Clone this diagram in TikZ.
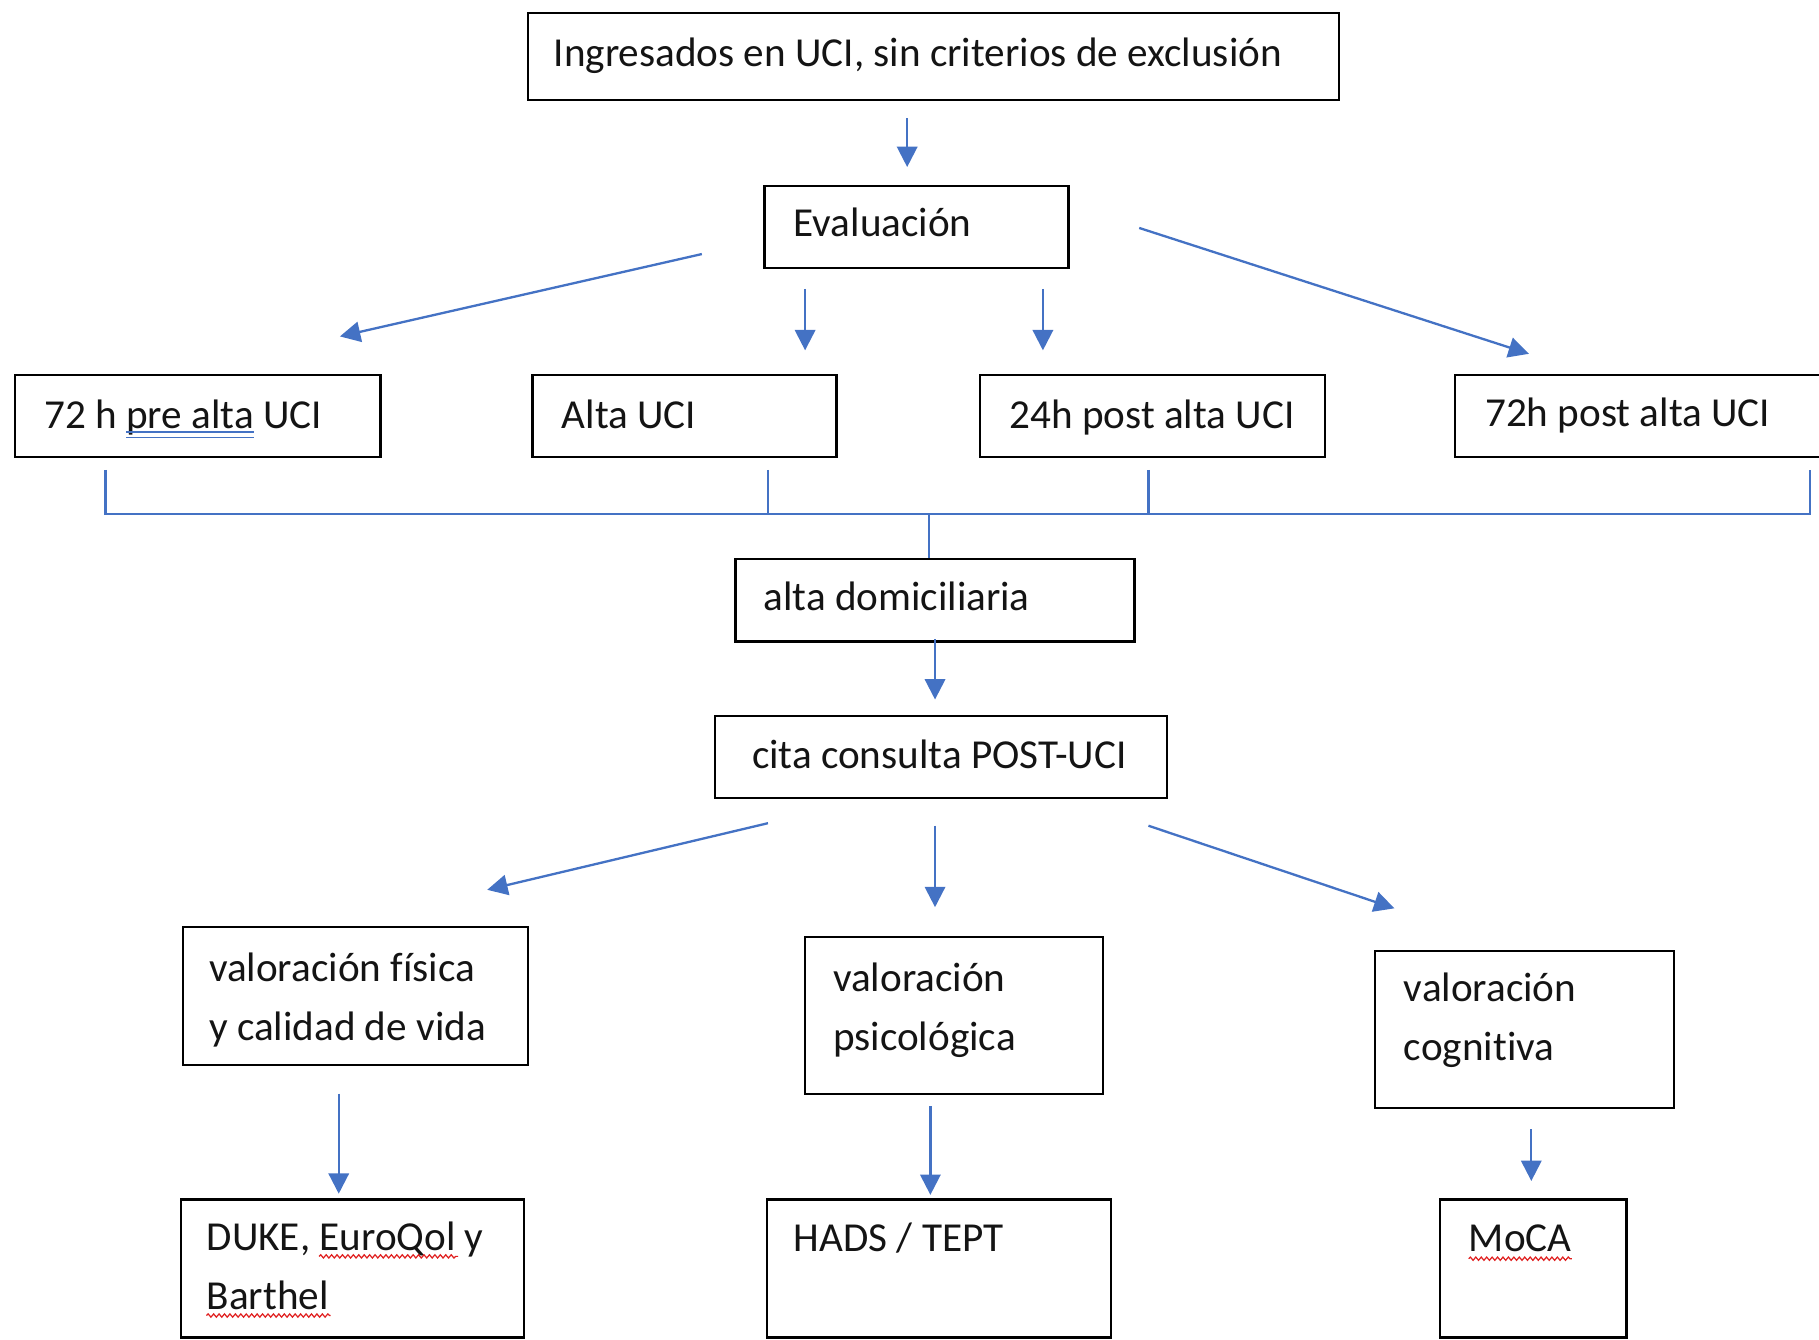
\documentclass[tikz,border=0pt]{standalone}
\usepackage{fontspec}
\setmainfont{Carlito}[Ligatures=NoCommon]
\usetikzlibrary{arrows.meta,fit,decorations.pathmorphing}
\definecolor{arrowblue}{HTML}{4472C4}
\definecolor{spellred}{HTML}{E02020}
\tikzset{
  box/.style={draw=black, line width=1.6pt, inner sep=0pt, rectangle},
  txt/.style={anchor=base west, inner sep=0pt, font=\fontsize{30.3}{43}\selectfont, text=black!92},
  arr/.style={draw=arrowblue, line width=1.7pt, -{Triangle[length=15pt,width=15pt]}},
  bline/.style={draw=arrowblue, line width=1.6pt},
  wavy/.style={draw=spellred, line width=0.9pt, decorate, decoration={snake, amplitude=1.2pt, segment length=4pt}},
}
\begin{document}
\begin{tikzpicture}[x=0.03cm,y=-0.03cm]
\useasboundingbox (0,0) rectangle (1568,1155);
\clip (0,0) rectangle (1568,1155);
% boxes
\node[box, fit={(455,11) (1154,86)}] (b1) {};
\node[box, fit={(659,160) (921,231)}] (b2) {};
\node[box, fit={(13,323) (328,394)}] (b3) {};
\node[box, fit={(459,323) (721,394)}] (b4) {};
\node[box, fit={(845,323) (1142,394)}] (b5) {};
\node[box, fit={(1254,323) (1585,394)}] (b6) {};
\node[box, fit={(634,482) (978,553)}] (b7) {};
\node[box, fit={(616,617) (1006,688)}] (b8) {};
\node[box, fit={(158,799) (455,918)}] (b9) {};
\node[box, fit={(694,808) (951,943)}] (b10) {};
\node[box, fit={(1185,820) (1443,955)}] (b11) {};
\node[box, fit={(156,1034) (452,1153)}] (b12) {};
\node[box, fit={(661,1034) (958,1153)}] (b13) {};
\node[box, fit={(1241,1034) (1402,1153)}] (b14) {};
% texts
\node[txt] (t1) at (477,57) {Ingresados en UCI, sin criterios de exclusión};
\node[txt] (t2) at (684,204) {Evaluación};
\node[txt] (t3) at (38,369.5) {72 h pre alta UCI};
\node[txt] (t4) at (484,369.5) {Alta UCI};
\node[txt] (t5) at (870,369.5) {24h post alta UCI};
\node[txt] (t6) at (1280,368) {72h post alta UCI};
\node[txt] (t7) at (658,526) {alta domiciliaria};
\node[txt] (t8) at (648,662.5) {cita consulta POST-UCI};
\node[txt] (t9a) at (180,846) {valoración física};
\node[txt] (t9b) at (180,896.5) {y calidad de vida};
\node[txt] (t10a) at (718,854.7) {valoración};
\node[txt] (t10b) at (718,905.3) {psicológica};
\node[txt] (t11a) at (1210,863.5) {valoración};
\node[txt] (t11b) at (1210,914) {cognitiva};
\node[txt] (t12a) at (178,1078) {DUKE, EuroQol y};
\node[txt] (t12b) at (178,1128.7) {Barthel};
\node[txt] (t13) at (684,1079) {HADS / TEPT};
\node[txt] (t14) at (1266,1079) {MoCA};
% spell-check marks
\draw[bline, line width=1.1pt] (109,372.5) -- (219,372.5) (109,377) -- (219,377);
\draw[wavy] (275,1083) -- (395,1083);
\draw[wavy] (178,1134) -- (285,1134);
\draw[wavy] (1266,1085) -- (1355,1085);
% arrow coordinates
\coordinate (a1s) at (782,102); \coordinate (a1e) at (782,144);
\coordinate (a2s) at (605,219); \coordinate (a2e) at (293,290);
\coordinate (a3s) at (694,249); \coordinate (a3e) at (694,302);
\coordinate (a4s) at (899,249); \coordinate (a4e) at (899,302);
\coordinate (a5s) at (982,196.5); \coordinate (a5e) at (1318,305);
\coordinate (k1) at (91,405); \coordinate (k1b) at (91,443);
\coordinate (k2) at (662,405); \coordinate (k2b) at (662,443);
\coordinate (k3) at (990,405); \coordinate (k3b) at (990,443);
\coordinate (k4) at (1560,405); \coordinate (k4b) at (1560,443);
\coordinate (kc) at (801,443);
\coordinate (a6s) at (806,551); \coordinate (a6e) at (806,603);
\coordinate (a7s) at (662,709.6); \coordinate (a7e) at (420,767);
\coordinate (a8s) at (806,711.8); \coordinate (a8e) at (806,782);
\coordinate (a9s) at (990,711.8); \coordinate (a9e) at (1202,783);
\coordinate (a10s) at (292,942.7); \coordinate (a10e) at (292,1029);
\coordinate (a11s) at (802,953.7); \coordinate (a11e) at (802,1030);
\coordinate (a12s) at (1320,973.5); \coordinate (a12e) at (1320,1018);
% arrows
\draw[arr] (a1s) -- (a1e);
\draw[arr] (a2s) -- (a2e);
\draw[arr] (a3s) -- (a3e);
\draw[arr] (a4s) -- (a4e);
\draw[arr] (a5s) -- (a5e);
\draw[bline] (k1) -- (k1b) -- (k4b) -- (k4);
\draw[bline] (k2) -- (k2b);
\draw[bline] (k3) -- (k3b);
\draw[bline] (kc) -- (kc |- b7.north);
\draw[arr] (a6s) -- (a6e);
\draw[arr] (a7s) -- (a7e);
\draw[arr] (a8s) -- (a8e);
\draw[arr] (a9s) -- (a9e);
\draw[arr] (a10s) -- (a10e);
\draw[arr] (a11s) -- (a11e);
\draw[arr] (a12s) -- (a12e);
\end{tikzpicture}
\end{document}
